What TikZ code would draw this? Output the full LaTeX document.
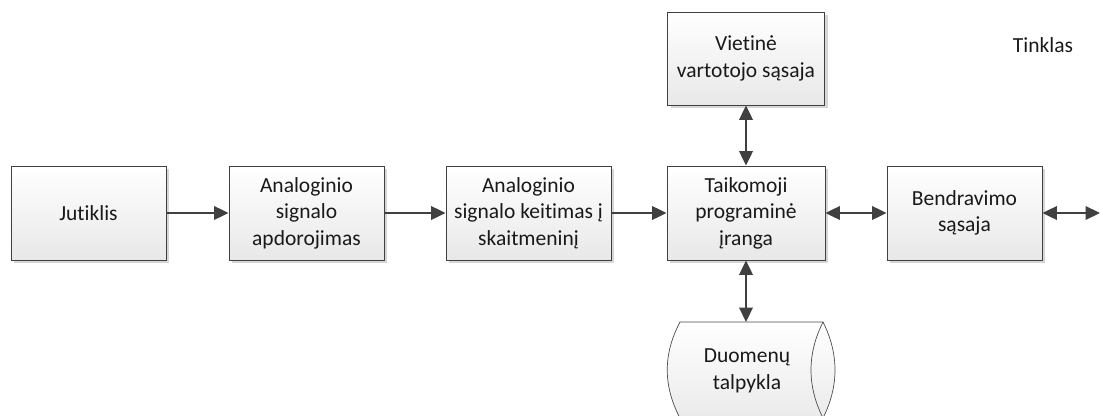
\documentclass[tikz,border=0pt]{standalone}
\usepackage{fontspec}
\setmainfont{Carlito}[Ligatures=NoCommon]
\usetikzlibrary{arrows.meta,shadows}
\begin{document}
\begin{tikzpicture}[x=1pt,y=-1pt,
  txt/.style={align=center, font=\fontsize{21.5}{26.5}\selectfont, text=black!90, inner sep=0pt},
  blk/.style={txt, draw=black!75, line width=0.9pt, top color=white, bottom color=black!9,
    minimum height=94pt,
    drop shadow={shadow xshift=3pt, shadow yshift=-3pt, fill=black!16, opacity=1}},
  tip/.tip={Triangle[length=14.5pt,width=13.5pt]},
  arr/.style={draw=black!75, line width=2.2pt, -tip},
  darr/.style={draw=black!75, line width=2.2pt, tip-tip}]
\useasboundingbox (0,0) rectangle (1100,415);
\fill[white] (0,0) rectangle (1100,415);

\node[blk, minimum width=155pt] (j) at (88.5,213) {Jutiklis};
\node[blk, minimum width=155pt] (a) at (306.5,213) {Analoginio\\signalo\\apdorojimas};
\node[blk, minimum width=165pt] (k) at (528.5,213) {Analoginio\\signalo keitimas į\\skaitmeninį};
\node[blk, minimum width=158pt] (t) at (746,213) {Taikomoji\\programinė\\įranga};
\node[blk, minimum width=155pt] (b) at (964.5,213) {Bendravimo\\sąsaja};
\node[blk, minimum width=157pt, minimum height=93pt] (v) at (746,58.5) {Vietinė\\vartotojo sąsaja};
\node[txt] (tk) at (1043,45) {Tinklas};

% data store
\path[draw=black!70, line width=0.7pt, top color=white, bottom color=black!8]
  (680,322) -- (823,322) .. controls (839,354) and (839,386) .. (823,418)
  -- (680,418) .. controls (663,386) and (663,354) .. (680,322) -- cycle;
\draw[black!70, line width=0.7pt] (823,322) .. controls (807,354) and (807,386) .. (823,418);
\node[txt] (d) at (747,371) {Duomenų\\talpykla};
\coordinate (dtop) at (746,322);
\coordinate (net) at (1100,213);

\draw[arr] (j) -- (a);
\draw[arr] (a) -- (k);
\draw[arr] (k) -- (t);
\draw[darr] (t) -- (b);
\draw[darr] (b) -- (net);
\draw[darr] (v) -- (t);
\draw[darr] (t) -- (dtop);
\end{tikzpicture}
\end{document}
